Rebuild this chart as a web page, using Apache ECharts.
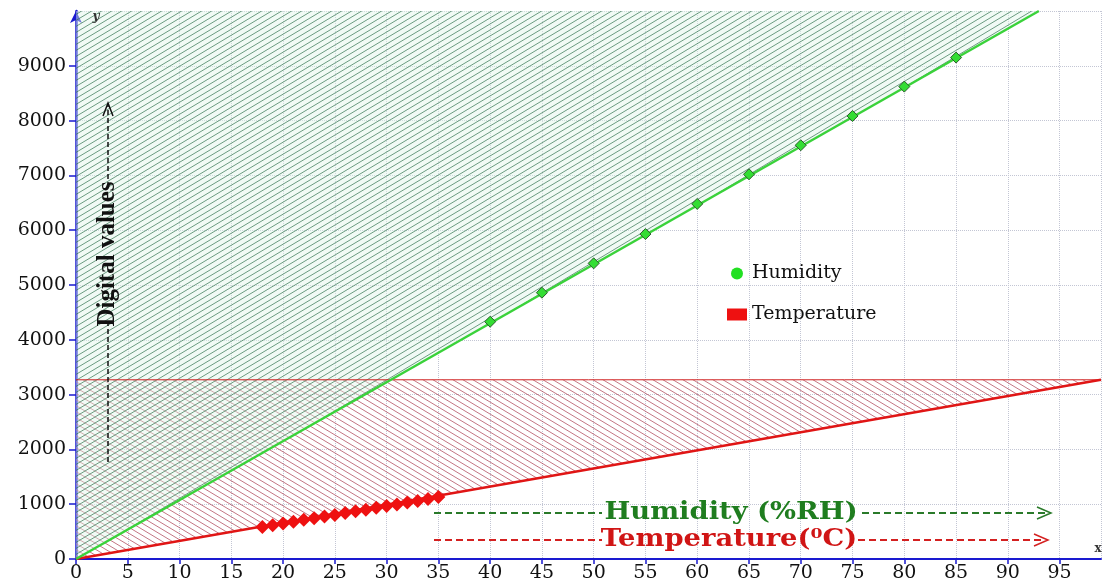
<!DOCTYPE html>
<html>
<head>
<meta charset="utf-8">
<title>Digital values vs Humidity / Temperature</title>
<script src="https://cdn.jsdelivr.net/npm/echarts@6/dist/echarts.min.js"></script>
<style>
  html, body { margin: 0; padding: 0; background: #ffffff; }
  #chart { width: 1103px; height: 583px; }
</style>
</head>
<body>
<div id="chart"></div>
<script>
// axis ranges
var xMin = 0, xMax = 99, xStep = 5;
var yMin = 0, yMax = 10000, yStep = 1000;

// measured humidity points (%RH -> digital value)
var humX = [40, 45, 50, 55, 60, 65, 70, 75, 80, 85];
var humY = [4330, 4860, 5395, 5930, 6480, 7020, 7550, 8085, 8620, 9150];

// measured temperature points (degC -> digital value)
var tempX = [18, 19, 20, 21, 22, 23, 24, 25, 26, 27, 28, 29, 30, 31, 32, 33, 34, 35];
var tempY = [585, 615, 650, 680, 715, 745, 775, 805, 840, 870, 900, 935, 965, 995, 1030, 1060, 1095, 1130];

// fitted lines (end points)
var humFit = [[0, 0], [93, 10000]];
var tempFit = [[0, 0], [99, 3270]];
var tempTop = 3270;

var serif = '"DejaVu Serif", "Liberation Serif", serif';

// hatch tile: w x h, lines rising ("/") or falling ("\")
function hatch(w, h, color, lw, rising, bg) {
  var c = document.createElement('canvas');
  c.width = w; c.height = h;
  var g = c.getContext('2d');
  if (bg) { g.fillStyle = bg; g.fillRect(0, 0, w, h); }
  g.strokeStyle = color;
  g.lineWidth = lw;
  g.beginPath();
  for (var k = -1; k <= 1; k++) {
    var o = k * w;
    if (rising) { g.moveTo(o - w, 2 * h); g.lineTo(o + 2 * w, -h); }
    else { g.moveTo(o - w, -h); g.lineTo(o + 2 * w, 2 * h); }
  }
  g.stroke();
  return c;
}

function zone(name, verts, tile) {
  return {
    name: name,
    type: 'custom',
    silent: true,
    clip: true,
    z: 1,
    data: [[0, 0]],
    renderItem: function (params, api) {
      return {
        type: 'polygon',
        shape: { points: verts.map(function (v) { return api.coord(v); }) },
        style: { fill: { image: tile, repeat: 'repeat' }, stroke: null }
      };
    }
  };
}

var chart = echarts.init(document.getElementById('chart'));

var humPts = humX.map(function (x, i) { return [x, humY[i]]; });
var tempPts = tempX.map(function (x, i) { return [x, tempY[i]]; });

var option = {
  backgroundColor: '#ffffff',
  animation: false,
  grid: { left: 76, right: 2, top: 11, bottom: 22, containLabel: false },
  legend: {
    orient: 'vertical',
    left: 722,
    top: 259,
    itemGap: 22,
    itemWidth: 20,
    itemHeight: 12,
    textStyle: { fontFamily: serif, fontSize: 19, color: '#111111' },
    data: [
      { name: 'Humidity', icon: 'circle', itemStyle: { color: '#22e022', borderWidth: 0 } },
      { name: 'Temperature', icon: 'rect', itemStyle: { color: '#ee1111', borderWidth: 0 } }
    ]
  },
  xAxis: {
    type: 'value',
    min: xMin, max: xMax, interval: xStep,
    axisLine: { lineStyle: { color: '#1a1ad0', width: 2 } },
    axisTick: { length: 5, lineStyle: { color: '#1a1ad0', width: 1.5 } },
    axisLabel: { showMaxLabel: false, margin: 5, fontFamily: serif, fontSize: 19, color: '#111111' },
    splitLine: { show: true, lineStyle: { type: 'dotted', color: '#c3c6d4', width: 1 } }
  },
  yAxis: {
    type: 'value',
    min: yMin, max: yMax, interval: yStep,
    axisLine: { show: true, symbol: ['none', 'arrow'], symbolSize: [9, 12], lineStyle: { color: '#1a1ad0', width: 2.5 } },
    axisTick: { show: true, length: 7, lineStyle: { color: '#1a1ad0', width: 1.5 } },
    axisLabel: {
      showMaxLabel: false, margin: 10, fontFamily: serif, fontSize: 19, color: '#111111',
      formatter: function (v) { return String(v); }
    },
    splitLine: { show: true, lineStyle: { type: 'dotted', color: '#c3c6d4', width: 1 } }
  },
  series: [
    zone('tempArea', [[0, 0], tempFit[1], [0, tempTop]], hatch(10, 6, 'rgba(170,60,80,0.7)', 1, false, null)),
    zone('humArea', [[0, 0], humFit[1], [0, yMax]], hatch(10, 6, 'rgba(50,115,80,0.7)', 1, true, 'rgba(225,245,232,0.45)')),
    {
      name: 'tempTop', type: 'line', silent: true, z: 3, showSymbol: false,
      data: [[0, tempTop], [xMax, tempTop]],
      lineStyle: { color: '#d02020', width: 1 }
    },
    {
      name: 'Temperature', type: 'line', silent: true, z: 3, showSymbol: false,
      data: tempFit,
      lineStyle: { color: '#e01515', width: 2.5 }
    },
    {
      name: 'Humidity', type: 'line', silent: true, z: 3, showSymbol: false,
      data: humFit,
      lineStyle: { color: '#3ad23a', width: 2.5 }
    },
    {
      name: 'Humidity', type: 'scatter', z: 4, symbol: 'diamond', symbolSize: 11,
      itemStyle: { color: '#33dd33', borderColor: '#2b5e2b', borderWidth: 1, opacity: 1 },
      data: humPts
    },
    {
      name: 'Temperature', type: 'scatter', z: 4, symbol: 'diamond', symbolSize: 14,
      itemStyle: { color: '#ee1111', opacity: 1 },
      data: tempPts
    }
  ],
  graphic: {
    elements: [
      // axis letters
      { type: 'text', z: 100, x: 96, y: 17, style: { text: 'y', font: 'italic bold 12px ' + serif, fill: '#333', align: 'center', verticalAlign: 'middle' } },
      { type: 'text', z: 100, x: 1098, y: 549, style: { text: 'x', font: 'bold 12px ' + serif, fill: '#333', align: 'center', verticalAlign: 'middle' } },

      // vertical "Digital values" arrow
      { type: 'line', z: 100, shape: { x1: 108, y1: 462, x2: 108, y2: 322 }, style: { stroke: '#111', lineWidth: 1.5, lineDash: [5, 3] } },
      { type: 'line', z: 100, shape: { x1: 108, y1: 187, x2: 108, y2: 104 }, style: { stroke: '#111', lineWidth: 1.5, lineDash: [5, 3] } },
      { type: 'polyline', z: 100, shape: { points: [[103, 116], [108, 103], [113, 116]] }, style: { stroke: '#111', lineWidth: 1.5, fill: null } },
      { type: 'text', z: 100, x: 108, y: 254, rotation: Math.PI / 2,
        style: { text: 'Digital values', font: 'bold 25px "Liberation Serif", serif', fill: '#111', align: 'center', verticalAlign: 'middle' } },

      // humidity x label
      { type: 'line', z: 100, shape: { x1: 434, y1: 513, x2: 602, y2: 513 }, style: { stroke: '#2a7a2a', lineWidth: 2, lineDash: [7, 4] } },
      { type: 'text', z: 100, x: 731, y: 513, scaleX: 1.14,
        style: { text: 'Humidity (%RH)', font: 'bold 24px ' + serif, fill: '#1f7d1f', align: 'center', verticalAlign: 'middle' } },
      { type: 'line', z: 100, shape: { x1: 862, y1: 513, x2: 1048, y2: 513 }, style: { stroke: '#2a7a2a', lineWidth: 2, lineDash: [7, 4] } },
      { type: 'polyline', z: 100, shape: { points: [[1037, 507], [1051, 513], [1037, 519]] }, style: { stroke: '#2a7a2a', lineWidth: 1.5, fill: null } },

      // temperature x label
      { type: 'line', z: 100, shape: { x1: 434, y1: 540, x2: 602, y2: 540 }, style: { stroke: '#d42020', lineWidth: 2, lineDash: [7, 4] } },
      { type: 'text', z: 100, x: 729, y: 540, scaleX: 1.14,
        style: { text: 'Temperature(\u2070C)', font: 'bold 24px ' + serif, fill: '#d01515', align: 'center', verticalAlign: 'middle' } },
      { type: 'line', z: 100, shape: { x1: 858, y1: 540, x2: 1045, y2: 540 }, style: { stroke: '#d42020', lineWidth: 2, lineDash: [7, 4] } },
      { type: 'polyline', z: 100, shape: { points: [[1034, 534], [1048, 540], [1034, 546]] }, style: { stroke: '#d42020', lineWidth: 1.5, fill: null } }
    ]
  }
};

chart.setOption(option);
</script>
</body>
</html>
